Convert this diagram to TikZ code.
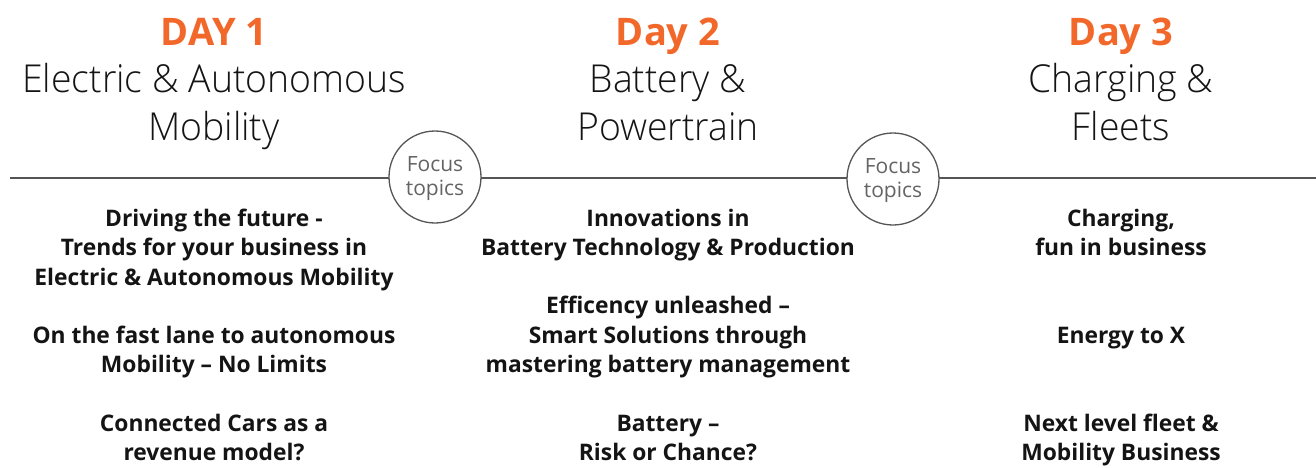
\documentclass[tikz,border=0pt]{standalone}
\usepackage{fontspec}
\setmainfont{Open Sans}
\newfontfamily\lightfont{Open Sans Light}[FakeStretch=0.97]
\newfontfamily\boldfont{Open Sans Bold}
\newfontfamily\plainfont{Open Sans}
\definecolor{dayorange}{RGB}{242,104,43}
\definecolor{ink}{RGB}{20,20,20}
\definecolor{rule}{RGB}{85,85,85}
\definecolor{circletext}{RGB}{100,100,100}
% multi-line nodes are placed by the baseline of their last line
\tikzset{
  dayhead/.style={anchor=base, text=dayorange, font=\boldfont\fontsize{38}{44}\selectfont, inner sep=0pt},
  daytitle/.style={anchor=base, text=ink, align=center, font=\lightfont\fontsize{38.5}{48}\selectfont, inner sep=0pt},
  topic/.style={anchor=base, text=ink, align=center, font=\boldfont\fontsize{22.8}{29.5}\selectfont, inner sep=0pt},
  focus/.style={circle, draw=rule, line width=1.3pt, fill=white, minimum size=92pt, inner sep=0pt},
  focustext/.style={anchor=base, text=circletext, align=center, font=\plainfont\fontsize{21}{23.5}\selectfont, inner sep=0pt},
}
\begin{document}
\begin{tikzpicture}[x=1pt, y=-1pt]
\useasboundingbox (0,0) rectangle (1316,467);

% timeline
\coordinate (lstart) at (10,178);
\coordinate (lend) at (1316,178);
\draw[rule, line width=1.5pt] (lstart) -- (lend);

% focus circles
\node[focus] (f1) at (435,177) {};
\node[focus] (f2) at (893,179) {};
\node[focustext] (f1t) at (435,195) {Focus\\topics};
\node[focustext] (f2t) at (893,197) {Focus\\topics};

% day 1
\node[dayhead] (d1) at (214,45) {DAY 1};
\node[daytitle] (d1t) at (214,140) {Electric \& Autonomous\\Mobility};
\node[topic] (d1a) at (214,285) {Driving the future -\\Trends for your business in\\Electric \& Autonomous Mobility};
\node[topic] (d1b) at (214,372.5) {On the fast lane to autonomous\\Mobility – No Limits};
\node[topic] (d1c) at (214,460.5) {Connected Cars as a\\revenue model?};

% day 2
\node[dayhead] (d2) at (668,45) {Day 2};
\node[daytitle] (d2t) at (668,140) {Battery \&\\Powertrain};
\node[topic] (d2a) at (668,255.5) {Innovations in\\Battery Technology \& Production};
\node[topic] (d2b) at (668,372.5) {Efficency unleashed –\\Smart Solutions through\\mastering battery management};
\node[topic] (d2c) at (668,460.5) {Battery –\\Risk or Chance?};

% day 3
\node[dayhead] (d3) at (1121,45) {Day 3};
\node[daytitle] (d3t) at (1121,140) {Charging \&\\Fleets};
\node[topic] (d3a) at (1121,255.5) {Charging,\\fun in business};
\node[topic] (d3b) at (1121,343) {Energy to X};
\node[topic] (d3c) at (1121,460.5) {Next level fleet \&\\Mobility Business};
\end{tikzpicture}
\end{document}
